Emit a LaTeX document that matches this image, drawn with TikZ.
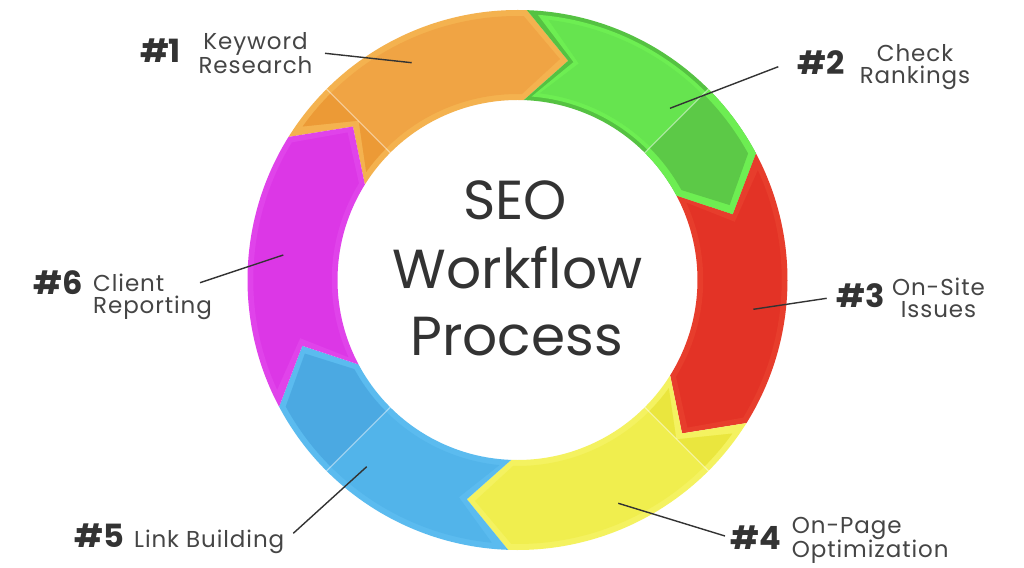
\documentclass[tikz,border=0pt]{standalone}
\usepackage{fontspec}
\setmainfont{Poppins}
\newfontfamily\lblfont[LetterSpace=4]{Poppins}
\definecolor{orL}{HTML}{F4B24F}
\definecolor{orC}{HTML}{F0A444}
\definecolor{orD}{HTML}{EC9A36}
\definecolor{grL}{HTML}{6DEE52}
\definecolor{grC}{HTML}{66E44F}
\definecolor{grD}{HTML}{5CC947}
\definecolor{grN}{HTML}{55C242}
\definecolor{reL}{HTML}{E73D2C}
\definecolor{reC}{HTML}{E33326}
\definecolor{reD}{HTML}{E33326}
\definecolor{yeL}{HTML}{F4F260}
\definecolor{yeC}{HTML}{F0EE4E}
\definecolor{yeD}{HTML}{EAE63E}
\definecolor{blL}{HTML}{5BBBEF}
\definecolor{blC}{HTML}{52B4EA}
\definecolor{blD}{HTML}{4BA9E2}
\definecolor{puL}{HTML}{E043EA}
\definecolor{puC}{HTML}{DC37E6}
\definecolor{puD}{HTML}{DC37E6}
\definecolor{numgray}{HTML}{333333}
\definecolor{txtgray}{HTML}{454545}
\definecolor{linegray}{HTML}{333333}
\definecolor{titlegray}{HTML}{333333}
\tikzset{
  numlbl/.style={font=\fontsize{32}{32}\selectfont\bfseries, text=numgray, inner sep=0pt},
  txtlbl/.style={font=\lblfont\fontsize{23}{22}\selectfont, text=txtgray, inner sep=0pt},
  leader/.style={draw=linegray, line width=1.4pt},
  titletext/.style={font=\fontsize{55}{55}\selectfont, text=titlegray, inner sep=0pt},
  diagline/.style={draw=white, opacity=0.45, line width=1.2pt}
}
\newcommand\ringseg[4]{%
  \pgfmathsetmacro\rsRo{270-#3}%
  \pgfmathsetmacro\rsRi{180+#3}%
  \pgfmathsetmacro\rsE{#3*0.3517}%
  \pgfmathsetmacro\rsF{#3*0.2444}%
  \pgfmathsetmacro\rsSC{#1-\rsE-\rsF}%
  \pgfmathsetmacro\rsSN{#1-11-\rsE}%
  \pgfmathsetmacro\rsBC{#2+\rsE-\rsF}%
  \pgfmathsetmacro\rsBT{#2-11+\rsE}%
  \fill[#4] (\rsSC:\rsRo) arc[start angle=\rsSC, end angle=\rsBC, radius=\rsRo]
    -- (\rsBT:225) -- (\rsBC:\rsRi) arc[start angle=\rsBC, end angle=\rsSC, radius=\rsRi]
    -- (\rsSN:225) -- cycle;
}
\begin{document}
\begin{tikzpicture}[x=1pt,y=1pt]
\useasboundingbox (-517.5,-287) rectangle (506.5,280);
\fill[white] (-517.5,-287) rectangle (506.5,280);
% border bands
\ringseg{148}{88}{0}{orL}
\ringseg{88}{28}{0}{grN}
\ringseg{28}{-32}{0}{reL}
\ringseg{-32}{-92}{0}{yeL}
\ringseg{-92}{-152}{0}{blL}
\ringseg{-152}{-212}{0}{puL}
\begin{scope}
\clip (0,0) -- (-45:300) arc[start angle=-45, end angle=45, radius=300] -- cycle;
\ringseg{88}{28}{0}{grL}
\end{scope}
\ringseg{88}{28}{4}{grL}
% bodies
\ringseg{148}{88}{6}{orC}
\ringseg{88}{28}{8}{grC}
\ringseg{28}{-32}{6}{reC}
\ringseg{-32}{-92}{6}{yeC}
\ringseg{-92}{-152}{6}{blC}
\ringseg{-152}{-212}{6}{puC}
% darker side quadrants
\begin{scope}
\clip (0,0) -- (-45:300) arc[start angle=-45, end angle=45, radius=300] -- cycle;
\ringseg{88}{28}{7}{grD}
\ringseg{28}{-32}{6}{reD}
\ringseg{-32}{-92}{6}{yeD}
\end{scope}
\begin{scope}
\clip (0,0) -- (135:300) arc[start angle=135, end angle=225, radius=300] -- cycle;
\ringseg{148}{88}{6}{orD}
\ringseg{-92}{-152}{6}{blD}
\ringseg{-152}{-212}{6}{puD}
\end{scope}
% faint diagonal seams
\draw[diagline] (45:180) -- (45:270);
\draw[diagline] (135:180) -- (135:270);
\draw[diagline] (225:180) -- (225:270);
\draw[diagline] (-45:180) -- (-45:270);
% centre title
\node[titletext, anchor=base] (seo) at (-2.5,60.4) {SEO};
\node[titletext, anchor=base] (wf) at (0,-9) {Workflow};
\node[titletext, anchor=base] (pr) at (-1,-75) {Process};
% label 1
\node[numlbl] (n1) at (-357,229.5) {\#1};
\node[txtlbl, align=center, anchor=base] (t1) at (-262,206.8) {Keyword\\Research};
\coordinate (c1a) at (-192.5,226.7);
\coordinate (c1b) at (-105.8,217.3);
\draw[leader] (c1a) -- (c1b);
% label 2
\node[numlbl] (n2) at (304,217.5) {\#2};
\node[txtlbl, align=center, anchor=base] (t2) at (397.5,196.8) {Check\\Rankings};
\coordinate (c2a) at (260.8,213.3);
\coordinate (c2b) at (152.5,171.7);
\draw[leader] (c2a) -- (c2b);
% label 3
\node[numlbl] (n3) at (343.5,-15.8) {\#3};
\node[txtlbl, align=center, anchor=base] (t3) at (421,-37.2) {On-Site\\Issues};
\coordinate (c3a) at (309.2,-18.3);
\coordinate (c3b) at (235.8,-29.3);
\draw[leader] (c3a) -- (c3b);
% label 4
\node[numlbl] (n4) at (238,-257.5) {\#4};
\node[txtlbl, align=left, anchor=base west] (t4) at (274.2,-277.8) {On-Page\\Optimization};
\coordinate (c4a) at (207.5,-256);
\coordinate (c4b) at (100.8,-223.3);
\draw[leader] (c4a) -- (c4b);
% label 5
\node[numlbl] (n5) at (-418.5,-255.5) {\#5};
\node[txtlbl, anchor=base west] (t5) at (-383.5,-267) {Link Building};
\coordinate (c5a) at (-224.2,-253.3);
\coordinate (c5b) at (-150.8,-186.7);
\draw[leader] (c5a) -- (c5b);
% label 6
\node[numlbl] (n6) at (-459.2,-2.5) {\#6};
\node[txtlbl, align=left, anchor=base west] (t6) at (-424.5,-33.2) {Client\\Reporting};
\coordinate (c6a) at (-317.5,-2.7);
\coordinate (c6b) at (-234.2,25);
\draw[leader] (c6a) -- (c6b);
\end{tikzpicture}
\end{document}
